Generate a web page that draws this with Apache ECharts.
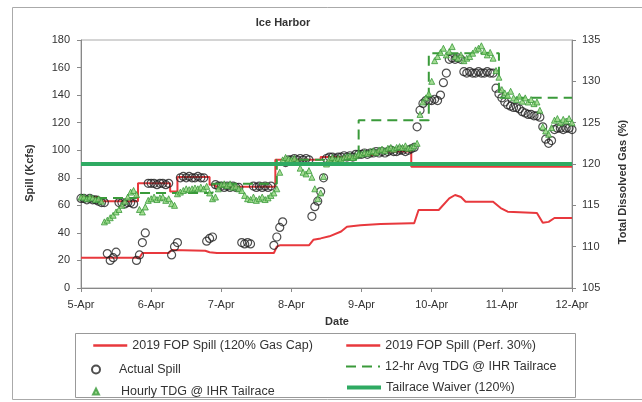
<!DOCTYPE html>
<html><head><meta charset="utf-8">
<script src="https://cdn.jsdelivr.net/npm/echarts@6/dist/echarts.min.js"></script>
<style>html,body{margin:0;padding:0;background:#fff}#c{width:642px;height:402px}</style>
</head><body><div id="c"></div>
<script>
// ---- data ----
const dateLabels = ['5-Apr','6-Apr','7-Apr','8-Apr','9-Apr','10-Apr','11-Apr','12-Apr'];
// hours since 5-Apr 00:00, 0..168
const actualSpill = [
 65,65,64,65,64,64,63,62,62,25,20,22,26,62,62,61,62,62,61,20,24,33,40,76,
 76,76,75,76,76,75,76,24,30,33,80,81,80,81,80,80,81,80,80,34,36,37,75,74,
 74,73,74,73,74,73,73,33,32,33,32,74,73,74,73,74,73,74,31,37,44,48,91,93,
 93,94,93,94,93,94,93,52,59,63,70,80,94,95,95,94,95,95,96,95,96,95,97,97,
 97,98,97,98,98,99,98,99,98,99,100,99,99,100,100,99,100,101,102,117,129,134,136,136,
 136,137,136,140,149,156,166,167,166,167,166,157,156,157,156,156,157,156,156,157,156,156,145,141,
 138,135,133,132,131,131,130,128,127,126,126,125,125,124,117,108,105,107,115,116,116,115,116,116,115
];
const hourlyTDG = [
 116,116,115.8,116,115.9,115.7,115.8,115.5,113,113.2,113.5,113.8,114.2,114.5,115,115.5,116,116.6,116.8,116.3,114.5,114.2,114.8,115.6,
 115.8,116,115.7,115.9,116,115.6,115.8,115.2,115,116.4,116.6,116.8,117,116.9,117,117.1,117,117.2,117,117.3,116.5,115.8,116,117,
 117.5,117.6,117.4,117.6,117.2,117.3,117,116.8,116.2,115.8,115.7,116,115.6,115.8,116,115.7,115.9,116.2,116.5,117,119,120.5,120.8,120.6,
 120.5,120.7,120.3,119.5,119,118.8,119.2,118.4,117,115.8,116.5,118.5,120,120.6,120.8,120.5,120.7,120.6,120.8,120.9,121,120.8,121,121.2,
 121.2,121.4,121.3,121.5,121.6,121.4,121.7,121.8,121.6,121.9,122,121.8,122,122.1,122,122.2,121.9,122,122.2,122.5,126,127.5,128,128.5,
 130,132.5,133,133.5,134,133.2,133.6,134.2,133,132.8,133.2,132.5,132.8,133,133.4,133.8,134,134.3,133.6,133.2,133.5,132.8,131.3,130.5,
 129,128.6,128.3,128.8,128,127.8,128.2,127.6,128,127.5,127.8,127.3,127.5,126.5,124.5,124,123.6,124.4,125.3,125.5,125,125.4,125.2,125.5,125
];
const avgHours  = [0, 19, 45, 67, 95, 119, 143, 168];
const avgTDG    = [115.9, 116.5, 117.6, 120.5, 125.3, 133.4, 128, 128];
const capHours  = [0, 6, 19.5, 30.5, 33, 44, 46, 66.5, 82, 95, 101, 113, 168];
const capSpill  = [66, 63, 76, 70, 80.5, 75, 73.5, 93, 95, 96.5, 99, 88, 88];
const perfHours = [0,20,21,30,31,42.5,44,46.5,66,67,68,78,79.5,82,85,89,91,95.6,102.5,113,114,115.5,122.4,126,128,130,131.6,141,143.6,146,156,158,160,162,168];
const perfSpill = [22,22,25.4,25.4,27.5,27,26,25.4,25.4,30,31,31,35,36,37.5,41,44.5,45.5,46.5,47,47,56.6,56.6,65,67.5,66,62.6,62.6,58,55.4,54.4,47.4,48,50.8,50.8];
const waiverHours = [0, 168];
const waiverTDG = [120, 120];
const names = ['2019 FOP Spill (120% Gas Cap)','2019 FOP Spill (Perf. 30%)','Actual Spill','12-hr Avg TDG @ IHR Tailrace','Hourly TDG @ IHR Tailrace','Tailrace Waiver (120%)'];

// ---- chart ----
const pairs = (xs, ys) => xs.map((x, i) => [x, ys[i]]);
const hourly = ys => ys.map((y, i) => [i, y]);
const FONT = 'Liberation Sans, Arial, sans-serif';
const RED = '#e8383d';
const txt = {fontFamily: FONT, fontSize: 11, color: '#333'};
function leg(name, left, top, w, h, pad, hideSym, lw) {
  const o = {show: true, data: [name], left: left, top: top, itemWidth: w, itemHeight: h,
    padding: 0, textStyle: {fontFamily: FONT, fontSize: 12.5, color: '#333', padding: [0, 0, 0, pad]}};
  if (hideSym) o.itemStyle = {opacity: 0};
  if (lw) o.lineStyle = {width: lw};
  return o;
}
const chart = echarts.init(document.getElementById('c'), null, {renderer: 'canvas'});
chart.setOption({
  animation: false,
  backgroundColor: '#fff',
  grid: {left: 81, right: 70, top: 40, bottom: 114, show: true, borderColor: '#aaa', borderWidth: 1, containLabel: false},
  xAxis: {type: 'value', min: 0, max: 168, interval: 24,
    axisLine: {lineStyle: {color: '#888'}}, axisTick: {length: 4, lineStyle: {color: '#888'}},
    splitLine: {show: false},
    axisLabel: Object.assign({margin: 11, formatter: v => dateLabels[Math.round(v / 24)]}, txt)},
  yAxis: [
    {type: 'value', min: 0, max: 180, interval: 20, position: 'left',
      axisLine: {show: true, lineStyle: {color: '#888'}}, axisTick: {show: true, length: 4, lineStyle: {color: '#888'}},
      splitLine: {show: false}, axisLabel: Object.assign({margin: 11}, txt)},
    {type: 'value', min: 105, max: 135, interval: 5, position: 'right',
      axisLine: {show: true, lineStyle: {color: '#888'}}, axisTick: {show: true, length: 4, lineStyle: {color: '#888'}},
      splitLine: {show: false}, axisLabel: Object.assign({margin: 10}, txt)}
  ],
  legend: [
    leg(names[0], 92, 339, 34, 12, 0, true, 2.5),
    leg(names[1], 345, 339, 34, 12, 0, true, 2.5),
    leg(names[2], 91, 363, 8, 8, 14, false),
    leg(names[3], 345, 360, 34, 12, 0, true, 2),
    leg(names[4], 92, 385, 6, 6, 17, false),
    leg(names[5], 345, 381, 34, 12, 0, true, 4)
  ],
  series: [
    {name: names[0], type: 'line', step: 'end', yAxisIndex: 0, data: pairs(capHours, capSpill), symbol: 'none',
      lineStyle: {color: RED, width: 2}, itemStyle: {color: RED}, z: 2},
    {name: names[1], type: 'line', yAxisIndex: 0, data: pairs(perfHours, perfSpill), symbol: 'none',
      lineStyle: {color: RED, width: 2}, itemStyle: {color: RED}, z: 2},
    {name: names[2], type: 'scatter', yAxisIndex: 0, data: hourly(actualSpill), symbol: 'circle', symbolSize: 8,
      itemStyle: {color: 'rgba(255,255,255,0)', borderColor: '#222', borderWidth: 1.2}, z: 3},
    {name: names[3], type: 'line', step: 'end', yAxisIndex: 1, data: pairs(avgHours, avgTDG), symbol: 'none',
      lineStyle: {color: '#3a9a3a', width: 2, type: [10, 6]}, itemStyle: {color: '#3a9a3a'}, z: 4},
    {name: names[4], type: 'scatter', yAxisIndex: 1, data: hourly(hourlyTDG), symbol: 'triangle', symbolSize: 6,
      itemStyle: {color: '#8fd47a', borderColor: '#3a9a3a', borderWidth: 1}, z: 5},
    {name: names[5], type: 'line', yAxisIndex: 1, data: pairs(waiverHours, waiverTDG), symbol: 'none',
      lineStyle: {color: '#2eaa62', width: 4}, itemStyle: {color: '#2eaa62'}, z: 6}
  ],
  graphic: [
    {type: 'rect', shape: {x: 12.5, y: 7.5, width: 700, height: 392}, style: {fill: null, stroke: '#aaa', lineWidth: 1}, silent: true},
    {type: 'rect', shape: {x: 75.5, y: 333.5, width: 500, height: 64}, style: {fill: null, stroke: '#999', lineWidth: 1}, silent: true},
    {type: 'text', x: 283, y: 23, style: {text: 'Ice Harbor', font: 'bold 11px ' + FONT, fill: '#333', textAlign: 'center', textVerticalAlign: 'middle'}},
    {type: 'text', x: 337, y: 322, style: {text: 'Date', font: 'bold 11px ' + FONT, fill: '#333', textAlign: 'center', textVerticalAlign: 'middle'}},
    {type: 'text', x: 30, y: 173, rotation: Math.PI / 2, style: {text: 'Spill (Kcfs)', font: 'bold 11px ' + FONT, fill: '#333', textAlign: 'center', textVerticalAlign: 'middle'}},
    {type: 'text', x: 623, y: 182, rotation: Math.PI / 2, style: {text: 'Total Dissolved Gas (%)', font: 'bold 11px ' + FONT, fill: '#333', textAlign: 'center', textVerticalAlign: 'middle'}}
  ]
});
</script></body></html>
